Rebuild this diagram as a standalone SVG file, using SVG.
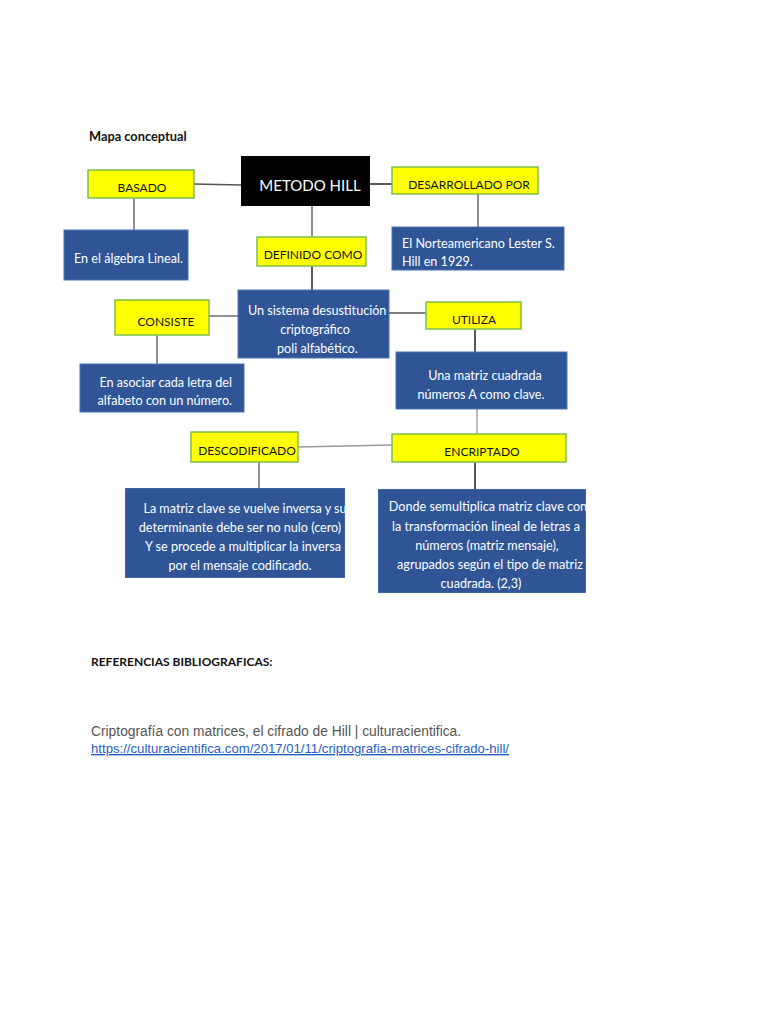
<svg xmlns="http://www.w3.org/2000/svg" width="768" height="1024" viewBox="0 0 768 1024">
<style>
.y{fill:#ffff00;stroke:#7fbf4a;stroke-width:1.5}
.b{fill:#2f5597;stroke:#4d74b5;stroke-width:1}
.k{fill:#000}
.c{stroke:#555;stroke-width:1.3;fill:none}
.cb{stroke:#000;stroke-width:1.3;fill:none}
.ty{font-family:Lato,"Open Sans",sans-serif;font-size:12px;fill:#111;text-anchor:middle}
.tb{font-family:Lato,"Open Sans",sans-serif;font-size:12.6px;fill:#fff}
.h{font-family:Lato,"Open Sans",sans-serif;font-size:12px;font-weight:bold;fill:#111}
</style>
<defs>
<clipPath id="cl1"><rect x="125" y="488" width="220" height="90"/></clipPath>
<clipPath id="cl2"><rect x="378" y="489" width="208" height="104"/></clipPath>
</defs>
<rect width="768" height="1024" fill="#fff"/>
<text class="h" x="89" y="141" style="font-size:12.8px">Mapa conceptual</text>
<g id="connectors">
<path class="c" d="M194 184 L241 185"/>
<path class="cb" d="M370 184 L392 184"/>
<path class="c" d="M478 194 L478 227"/>
<path class="c" d="M134 198 L134 230"/>
<path class="c" d="M312 206 L312 237"/>
<path class="cb" d="M312 266 L312 290"/>
<path class="c" d="M209 316 L238 316"/>
<path class="c" d="M157 335 L157 364"/>
<path class="c" d="M389 313 L426 313"/>
<path class="cb" d="M475 329 L475 352"/>
<path class="c" d="M477 409 L477 434" style="stroke:#999"/>
<path class="c" d="M298 447 L392 445" style="stroke:#999"/>
<path class="c" d="M259 462 L259 488"/>
<path class="cb" d="M475 462 L475 489"/>
</g>
<g id="metodo"><rect class="k" x="241" y="156" width="129" height="50"/><text x="310" y="191" style="font-family:Lato,'Open Sans',sans-serif;font-size:15px;fill:#fff;text-anchor:middle">METODO HILL</text></g>
<g id="basado"><rect class="y" x="88" y="170" width="106" height="28"/><text class="ty" x="142" y="192">BASADO</text></g>
<g id="desarrollado"><rect class="y" x="392" y="167" width="146" height="27"/><text class="ty" x="469" y="189">DESARROLLADO POR</text></g>
<g id="norteamericano"><rect class="b" x="392" y="227" width="172" height="43"/><text class="tb" x="402" y="248">El Norteamericano Lester S.</text><text class="tb" x="402" y="266">Hill en 1929.</text></g>
<g id="algebra"><rect class="b" x="64" y="230" width="124" height="50"/><text class="tb" x="74" y="263">En el álgebra Lineal.</text></g>
<g id="definido"><rect class="y" x="257" y="237" width="109" height="29"/><text class="ty" x="313" y="259">DEFINIDO COMO</text></g>
<g id="sistema"><rect class="b" x="238" y="290" width="151" height="68"/><text class="tb" x="248" y="315">Un sistema desustitución</text><text class="tb" x="315" y="334" text-anchor="middle">criptográfico</text><text class="tb" x="277" y="353">poli alfabético.</text></g>
<g id="consiste"><rect class="y" x="115" y="300" width="94" height="35"/><text class="ty" x="166" y="326">CONSISTE</text></g>
<g id="asociar"><rect class="b" x="80" y="364" width="164" height="48"/><text class="tb" x="232" y="387" text-anchor="end">En asociar cada letra del</text><text class="tb" x="232" y="405" text-anchor="end">alfabeto con un número.</text></g>
<g id="utiliza"><rect class="y" x="426" y="302" width="95" height="27"/><text class="ty" x="474" y="324">UTILIZA</text></g>
<g id="matriz"><rect class="b" x="396" y="352" width="171" height="57"/><text class="tb" x="485" y="380" text-anchor="middle">Una matriz cuadrada</text><text class="tb" x="481" y="399" text-anchor="middle">números A como clave.</text></g>
<g id="encriptado"><rect class="y" x="392" y="434" width="174" height="28"/><text class="ty" x="482" y="456">ENCRIPTADO</text></g>
<g id="descodificado"><rect class="y" x="191" y="432" width="107" height="30"/><text class="ty" x="247" y="455">DESCODIFICADO</text></g>
<g id="descodificado_text" clip-path="url(#cl1)"><rect class="b" x="125" y="488" width="220" height="90"/>
<text class="tb" text-anchor="middle" x="245" y="513">La matriz clave se vuelve inversa y su</text>
<text class="tb" text-anchor="middle" x="240" y="532">determinante debe ser no nulo (cero)</text>
<text class="tb" text-anchor="middle" x="243" y="551">Y se procede a multiplicar la inversa</text>
<text class="tb" text-anchor="middle" x="240" y="570">por el mensaje codificado.</text></g>
<g id="encriptado_text" clip-path="url(#cl2)"><rect class="b" x="378" y="489" width="208" height="104"/>
<text class="tb" text-anchor="middle" x="488" y="511">Donde semultiplica matriz clave con</text>
<text class="tb" text-anchor="middle" x="486" y="531">la transformación lineal de letras a</text>
<text class="tb" text-anchor="middle" x="487" y="550">números (matriz mensaje),</text>
<text class="tb" text-anchor="middle" x="490" y="569">agrupados según el tipo de matriz</text>
<text class="tb" text-anchor="middle" x="481" y="588">cuadrada. (2,3)</text></g>
<text class="h" x="91" y="666">REFERENCIAS BIBLIOGRAFICAS:</text>
<text x="91" y="736" style="font-family:'Liberation Sans',Arial,sans-serif;font-size:13.8px;fill:#555">Criptografía con matrices, el cifrado de Hill | culturacientifica.</text>
<text x="91" y="753" textLength="418" lengthAdjust="spacingAndGlyphs" style="font-family:'Liberation Sans',Arial,sans-serif;font-size:13.6px;fill:#1f5fc4;text-decoration:underline">https://culturacientifica.com/2017/01/11/criptografia-matrices-cifrado-hill/</text>
</svg>
